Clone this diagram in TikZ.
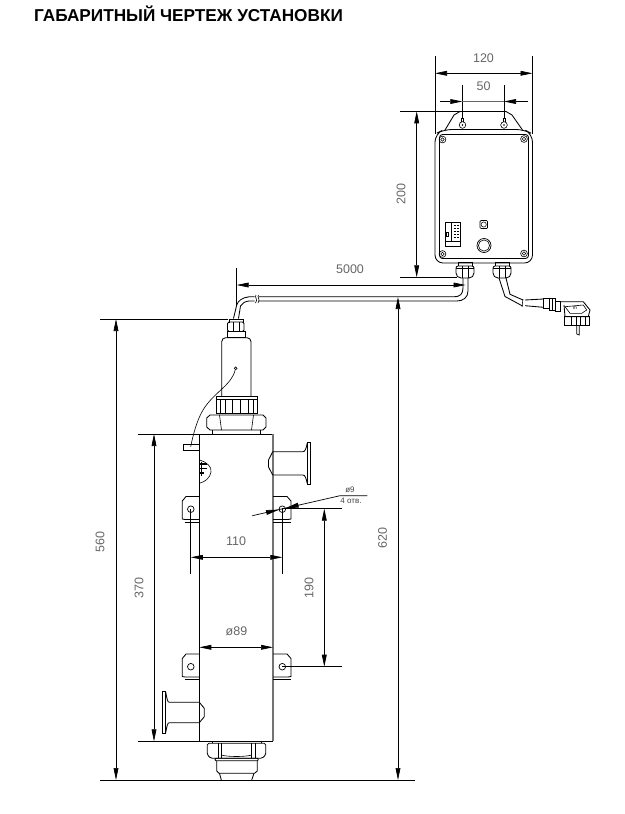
\documentclass[tikz,border=0pt]{standalone}
\usepackage{fontspec}
\setmainfont{Liberation Sans}
\usetikzlibrary{arrows.meta}
\definecolor{dimgray}{HTML}{666666}
\tikzset{
part/.style={draw=black,line width=0.85pt},
extline/.style={draw=black,line width=0.7pt},
dimline/.style={draw=black,line width=0.7pt,{Triangle[length=12pt,width=4.8pt]}-{Triangle[length=12pt,width=4.8pt]}},
oneway/.style={draw=black,line width=0.7pt,-{Triangle[length=12pt,width=4.8pt]}},
holetip/.style={draw=black,line width=0.7pt,-{Triangle[length=13pt,width=4.8pt]}},
dimtext/.style={text=dimgray,inner sep=0pt,font=\fontsize{12.5}{13}\selectfont},
smalltext/.style={text=black!75,inner sep=0pt,font=\fontsize{8}{8}\selectfont}
}
\begin{document}
\begin{tikzpicture}[x=1pt,y=-1pt]
\useasboundingbox (0,0) rectangle (624,814);
\node[inner sep=0pt,anchor=west,font=\fontsize{17.2}{18}\bfseries\selectfont] (title) at (34,14) {ГАБАРИТНЫЙ ЧЕРТЕЖ УСТАНОВКИ};

% control box
\draw[part,rounded corners=8pt] (435,134)--(435,263)--(532.5,263)--(532.5,134)--(524,129.5)--(444,129.5)--cycle;
\draw[part,rounded corners=3pt] (439.5,134.5) rectangle (528.5,258.5);
\draw[part] (445,130)--(454,115)--(460,111.5)--(506,111.5)--(512,115)--(522.5,130);
\foreach \x in {462.5,504}{
\draw[part,line width=0.6pt] (\x,125) circle (3.3);
\draw[part,line width=0.6pt] (\x-1.2,122)--(\x-1.2,118)--(\x+1.2,118)--(\x+1.2,122);
\fill (\x,125) circle (0.8);
}
\foreach \x/\y in {442.5/139.5,524/139,442.5/254,524/253.5}{
\draw[part,line width=0.6pt] (\x,\y) circle (3.4);
\draw[part,line width=0.5pt] (\x,\y) circle (1.8);
}
\draw[part,line width=0.7pt] (445,222.5) rectangle (460,246.5);
\draw[part,line width=0.6pt] (451.5,223)--(451.5,241.5);
\draw[part,line width=0.6pt] (445,241.5)--(460,241.5);
\draw[part,line width=0.5pt] (446,232.5) rectangle (448,236);
\foreach \y in {225,228,231,234,237}{
\draw[line width=0.9pt] (453.5,\y)--(455.5,\y);
\draw[line width=0.9pt] (456.8,\y)--(458.5,\y);
}
\draw[part,line width=0.7pt,rounded corners=1pt] (480,220.5) rectangle (487.5,228.5);
\draw[part,line width=0.5pt] (483.7,224.5) circle (2.6);
\draw[part,line width=0.7pt] (484,245.5) circle (7);
\draw[part,line width=0.6pt] (484,245.5) circle (5.6);

% glands
\foreach \x in {456,493}{
\draw[part] (\x+2,266)--(\x+2,262.8)--(\x+16,262.8)--(\x+16,266);
\draw[part,rounded corners=2pt] (\x,266)--(\x,275)--(\x+3,278)--(\x+15,278)--(\x+18,275)--(\x+18,266)--cycle;
\draw[part,line width=0.6pt] (\x,268)--(\x+18,268);
\draw[part,line width=0.6pt] (\x+6.5,266)--(\x+6.5,278);
\draw[part,line width=0.6pt] (\x+12,266)--(\x+12,278);
}

% lamp cable
\draw[part] (463,278)--(463,288) .. controls (463,294) and (460,296.8) .. (454,296.8)--(258.5,296.8);
\draw[part] (468,278)--(468,291) .. controls (468,297.5) and (463,301) .. (457,301)--(258.5,301);
\draw[part] (254.5,296.8)--(249,296.8) .. controls (242,297.5) and (238,301) .. (236.7,305)--(233.5,318.5);
\draw[part] (254.5,301)--(249,301) .. controls (245,301.5) and (242,303) .. (240.5,306)--(238.5,318.5);
\draw[line width=0.6pt] (256,295) .. controls (254,297.5) and (258.5,299) .. (255.5,303);
\draw[line width=0.6pt] (258.5,295) .. controls (256.5,297.5) and (261,299) .. (258,303);

% mains cable and plug
\draw[part] (499,278)--(505,296.5)--(522,305.7);
\draw[part] (506,278)--(510,294.3)--(523,300);
\draw[line width=0.6pt] (523,299) .. controls (521,302) and (524,303) .. (522,307);
\draw[part] (525,300)--(543.5,299);
\draw[part] (525,305.7)--(543.5,307.3);
\draw[part] (543.5,298.3) rectangle (549.3,308.3);
\draw[part] (549.3,298) rectangle (555,310);
\draw[part,line width=0.6pt] (552,298)--(552,310);
\draw[part] (555,301) rectangle (560.7,311.7);
\draw[part] (560.7,301.7)--(583.3,301.7)--(590,310)--(588.3,316.7)--(565,316.7)--(564,305);
\draw[part,line width=0.6pt] (565,306.7)--(583.3,305)--(586.7,310)--(581.7,313.3)--(570,313.3)--cycle;
\node[inner sep=0pt,font=\fontsize{5}{5}\selectfont] (plugmark) at (575,308.5) {m};
\draw[part] (564,316.7) rectangle (589.3,325.7);
\foreach \x in {571.5,576,580,585}{
\draw[part,line width=0.6pt] (\x,316.7)--(\x,325.7);
}
\draw[part,line width=0.7pt] (576.7,325.7)--(576.7,334)--(579.3,335)--(579.3,325.7);

% lamp head
\draw[part] (229,323)--(229,319.5)--(243,319.5)--(243,323);
\draw[part,rounded corners=1.5pt] (227.5,322)--(227.5,331.5)--(244,331.5)--(244,322)--cycle;
\draw[part,line width=0.6pt] (233,322)--(233,331.5);
\draw[part,line width=0.6pt] (239,322)--(239,331.5);
\draw[part] (227.5,331.5) rectangle (245,337.7);
\draw[part,rounded corners=4pt] (221.7,396.7)--(221.7,337.7)--(251,337.7)--(251,396.7);
\draw[part] (216,396.7) rectangle (257.3,413.3);
\draw[part] (216,399.5)--(257.3,399.5);
\foreach \x in {220,225,232,240,248,253.5}{
\draw[part,line width=0.6pt] (\x,399.5)--(\x,413.3);
}
\draw[part] (206.7,418)--(206.7,427)--(210,430)--(263,430)--(266,427)--(266,418)--(263,415)--(210,415)--cycle;
\draw[part,line width=0.6pt] (219.5,415)--(221.5,430);
\draw[part,line width=0.6pt] (253.5,415)--(251.5,430);
\draw[part] (212.7,430)--(212.7,434);
\draw[part] (260.7,430)--(260.7,434);

% wire to the tag
\draw[part,line width=0.6pt] (235.7,368.3) circle (1.4);
\draw[line width=0.6pt] (235.2,369.7) .. controls (232,385) and (214,392) .. (203,410) .. controls (197,420) and (193,435) .. (190.7,446.7);
\draw[part,line width=0.7pt] (183.3,444) rectangle (199.3,450);

% vessel
\draw[part] (199.3,434)--(273,434);
\draw[part] (199.3,434)--(199.3,741.3)--(273,741.3);
\draw[draw=black!55,line width=1.5pt] (273,434)--(273,741.3);

% earth mark
\draw[part,line width=0.6pt] (199.3,460) .. controls (207,462) and (212,467) .. (211,472) .. controls (210,478) and (205,482) .. (199.3,483.3);
\draw[line width=1.1pt] (200,464)--(207,464);
\draw[line width=1.1pt] (200,468.5)--(207,468.5);
\draw[line width=1.1pt] (200,473)--(204,473);
\draw[line width=0.8pt] (201.8,461.5)--(201.8,476);

% upper branch
\draw[part] (272.7,451.7)--(303,451.7) .. controls (305,451.7) and (306,449) .. (307.3,443);
\draw[part] (272.7,475)--(303,475) .. controls (305,475) and (306,478) .. (307.3,483.5);
\draw[part,line width=0.7pt] (307.3,442.3) rectangle (310.7,484);
\draw[part] (272.7,451.7)--(268.5,460)--(268.5,467)--(272.7,475);

% lower branch
\draw[part] (199.3,702.3)--(169.3,702.3) .. controls (167.5,702.3) and (167,699) .. (165.7,692);
\draw[part] (199.3,722.7)--(169.3,722.7) .. controls (167.5,722.7) and (167,726) .. (165.7,732.5);
\draw[part,line width=0.7pt] (162.3,691) rectangle (165.7,733.3);
\draw[part] (199.3,702.3)--(204.3,708.3)--(204.3,716.7)--(199.3,722.7);

% lugs
\foreach \d in {0,157.5}{
\draw[part] (199.3,496.5+\d)--(186,496.5+\d)--(182.3,501+\d)--(182.3,519+\d)--(185,519.5+\d)--(199.3,519.5+\d);
\draw[part,line width=0.6pt] (184.5,521.8+\d)--(199.3,521.8+\d);
\draw[part] (273,496.5+\d)--(287,496.5+\d)--(291,501+\d)--(291,519+\d)--(288,519.5+\d)--(273,519.5+\d);
\draw[part,line width=0.6pt] (273,521.8+\d)--(291,521.8+\d);
\draw[part,line width=0.7pt] (190.8,509.2+\d) circle (3.3);
\draw[part,line width=0.7pt] (282.3,509.2+\d) circle (3.3);
}

% bottom fitting
\draw[part] (212,741.3)--(212,743.3);
\draw[part] (261,741.3)--(261,743.3);
\draw[part,rounded corners=1.5pt] (207.3,743.3)--(207.3,755)--(211,758.3)--(262,758.3)--(265.7,755)--(265.7,743.3)--cycle;
\draw[part,line width=0.6pt] (218.3,743.3)--(218.3,758);
\draw[part,line width=0.6pt] (221,743.3)--(221,758);
\draw[part,line width=0.6pt] (251.7,743.3)--(251.7,758);
\draw[part,line width=0.6pt] (255,743.3)--(255,758);
\draw[part,line width=0.6pt] (221,755) .. controls (228,757) and (245,757) .. (251.7,755);
\draw[part,rounded corners=1pt] (215,758.2) rectangle (258.3,760.8);
\draw[part] (216.7,760.8)--(216.7,771)--(219,773.3)--(254.5,773.3)--(257.3,771)--(257.3,760.8);
\draw[part] (219.5,773.3)--(221.3,780);
\draw[part] (254,773.3)--(251.7,780);

% dimension 120
\coordinate (wl) at (435,73.3);
\coordinate (wr) at (532.5,73.3);
\draw[extline] (435,56)--(435,134);
\draw[extline] (532.5,56)--(532.5,134);
\draw[dimline] (wl)--(wr);
\node[dimtext] (dimwidth) at (483.5,58) {120};

% dimension 50
\coordinate (hl) at (462.3,101.5);
\coordinate (hr) at (504,101.5);
\coordinate (hlout) at (440,101.5);
\coordinate (hrout) at (527.7,101.5);
\draw[extline] (462.3,85)--(462.3,118);
\draw[extline] (504,85)--(504,118);
\draw[draw=black!60,line width=0.6pt] (hl)--(hr);
\draw[oneway] (hlout)--(hl);
\draw[oneway] (hrout)--(hr);
\node[dimtext] (dimholes) at (483.5,86) {50};

% dimension 200
\coordinate (bt) at (416.7,111.3);
\coordinate (bb) at (416.7,277.3);
\draw[extline] (400,111.3)--(460,111.3);
\draw[extline] (400,277.3)--(457,277.3);
\draw[dimline] (bt)--(bb);
\node[dimtext,rotate=90] (dimheight) at (401,194) {200};

% dimension 5000
\coordinate (cl) at (236.7,285);
\coordinate (cr) at (465.5,285);
\draw[extline] (236.7,268)--(236.7,305);
\draw[dimline] (cl)--(cr);
\node[dimtext] (dimcable) at (350,269) {5000};

% dimension 560
\coordinate (ot) at (116,319);
\coordinate (ob) at (116,780);
\draw[extline] (100,319)--(228,319);
\draw[extline] (100,780)--(415,780);
\draw[dimline] (ot)--(ob);
\node[dimtext,rotate=90] (dimoverall) at (100,542) {560};

% dimension 370
\coordinate (vt) at (154,434);
\coordinate (vb) at (154,741.3);
\draw[extline] (138,434)--(199.3,434);
\draw[extline] (138,741.3)--(199.3,741.3);
\draw[dimline] (vt)--(vb);
\node[dimtext,rotate=90] (dimvessel) at (139,588) {370};

% dimension 620
\coordinate (tt) at (398,297);
\coordinate (tb) at (398,780);
\draw[dimline] (tt)--(tb);
\node[dimtext,rotate=90] (dimtotal) at (382.5,538) {620};

% dimension 110
\coordinate (ll) at (190.8,557.3);
\coordinate (lr) at (282.3,557.3);
\draw[extline] (190.8,509.2)--(190.8,573.5);
\draw[extline] (282.3,509.2)--(282.3,573.5);
\draw[dimline] (ll)--(lr);
\node[dimtext] (dimlugs) at (236,541.5) {110};

% dimension 89
\coordinate (dl) at (199.3,647.3);
\coordinate (dr) at (273,647.3);
\draw[dimline] (dl)--(dr);
\node[dimtext] (dimdiam) at (236.5,631.5) {ø89};

% dimension 190
\coordinate (st) at (324.3,508.7);
\coordinate (sb) at (324.3,666.7);
\draw[extline] (282.3,508.7)--(342,508.7);
\draw[extline] (282.3,666.7)--(342,666.7);
\draw[dimline] (st)--(sb);
\node[dimtext,rotate=90] (dimspacing) at (309,588) {190};

% hole leader
\coordinate (ha) at (252.3,515.7);
\coordinate (hb) at (340,495.7);
\coordinate (hc) at (367.3,495.7);
\coordinate (hta) at (279,509.6);
\coordinate (htb) at (285.6,508.1);
\draw[extline] (ha)--(hb)--(hc);
\draw[holetip] (266,512.6)--(hta);
\draw[holetip] (299,505)--(htb);
\node[smalltext] (holesize) at (350,489.5) {ø9};
\node[smalltext] (holecount) at (351,501) {4 отв.};
\end{tikzpicture}
\end{document}
